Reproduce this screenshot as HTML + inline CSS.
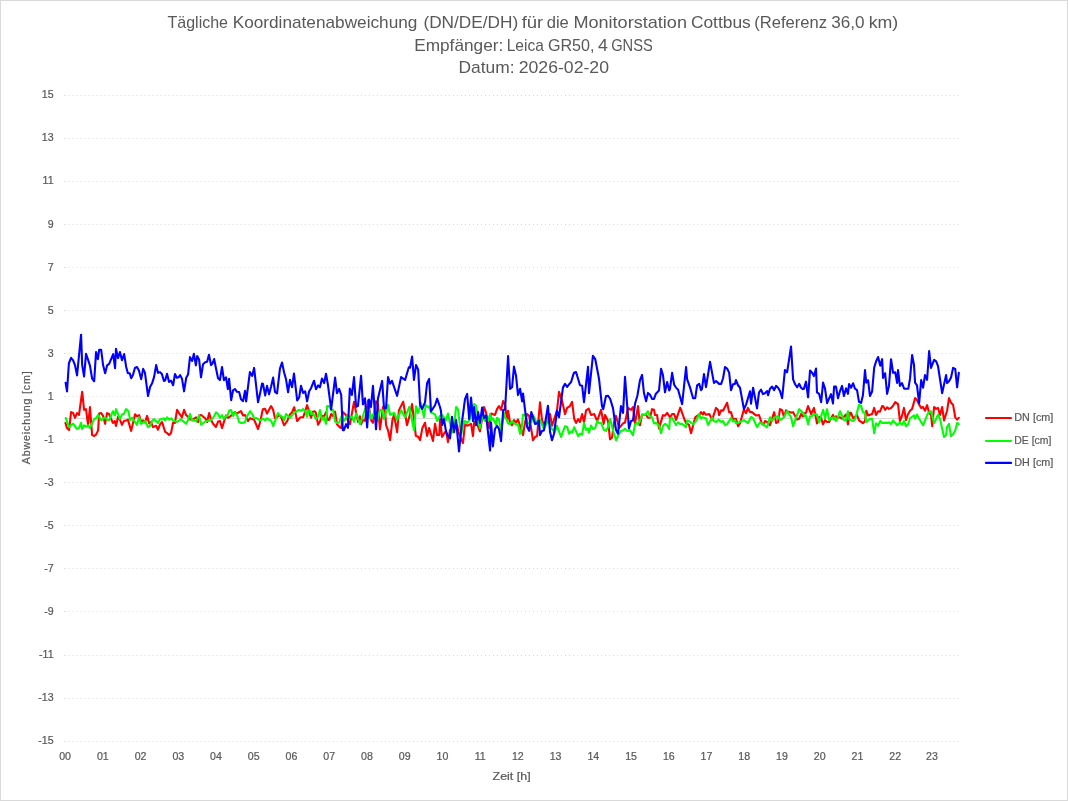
<!DOCTYPE html>
<html lang="de">
<head>
<meta charset="utf-8">
<title>Tägliche Koordinatenabweichung</title>
<style>
html,body{margin:0;padding:0;background:#fff;}
body{width:1068px;height:801px;overflow:hidden;}
svg{display:block;will-change:transform;}
text{font-family:"Liberation Sans",sans-serif;fill:#595959;}
.t{font-size:17px;}
.a{font-size:10.6px;stroke:#595959;stroke-width:0.22;}
.g{stroke:#d9d9d9;stroke-width:1;stroke-dasharray:1 3.0045;fill:none;}
.l{fill:none;stroke-width:2.1;stroke-linejoin:round;stroke-linecap:round;}
</style>
</head>
<body>
<svg width="1068" height="801" viewBox="0 0 1068 801">
<rect x="0.5" y="0.5" width="1067" height="800" fill="#fff" stroke="#d9d9d9" stroke-width="1"/>

<text class="t" y="28.0"><tspan x="167.5" textLength="60.5" lengthAdjust="spacingAndGlyphs">Tägliche</tspan> <tspan x="232.7" textLength="184.7" lengthAdjust="spacingAndGlyphs">Koordinatenabweichung</tspan> <tspan x="423.4" textLength="94.9" lengthAdjust="spacingAndGlyphs">(DN/DE/DH)</tspan> <tspan x="521.7" textLength="21.6" lengthAdjust="spacingAndGlyphs">für</tspan> <tspan x="546.7" textLength="22.1" lengthAdjust="spacingAndGlyphs">die</tspan> <tspan x="573.4" textLength="113.6" lengthAdjust="spacingAndGlyphs">Monitorstation</tspan> <tspan x="690.9" textLength="59.9" lengthAdjust="spacingAndGlyphs">Cottbus</tspan> <tspan x="754.2" textLength="72.8" lengthAdjust="spacingAndGlyphs">(Referenz</tspan> <tspan x="831.2" textLength="33.3" lengthAdjust="spacingAndGlyphs">36,0</tspan> <tspan x="868.7" textLength="29.6" lengthAdjust="spacingAndGlyphs">km)</tspan></text>
<text class="t" y="50.5"><tspan x="414.2" textLength="89.1" lengthAdjust="spacingAndGlyphs">Empfänger:</tspan> <tspan x="506.7" textLength="37.1" lengthAdjust="spacingAndGlyphs">Leica</tspan> <tspan x="547.9" textLength="46.6" lengthAdjust="spacingAndGlyphs">GR50,</tspan> <tspan x="597.9" textLength="9.9" lengthAdjust="spacingAndGlyphs">4</tspan> <tspan x="611.2" textLength="41.6" lengthAdjust="spacingAndGlyphs">GNSS</tspan></text>
<text class="t" y="73.0"><tspan x="458.4" textLength="56.1" lengthAdjust="spacingAndGlyphs">Datum:</tspan> <tspan x="518.7" textLength="90.3" lengthAdjust="spacingAndGlyphs">2026-02-20</tspan></text>
<line class="g" x1="64.5" y1="95.50" x2="959.0" y2="95.50"/>
<rect x="64" y="95" width="1" height="1" fill="#dcdcdc"/>
<text class="a" x="53.6" y="97.90" text-anchor="end">15</text>
<line class="g" x1="64.5" y1="138.50" x2="959.0" y2="138.50"/>
<rect x="64" y="138" width="1" height="1" fill="#dcdcdc"/>
<text class="a" x="53.6" y="140.90" text-anchor="end">13</text>
<line class="g" x1="64.5" y1="181.50" x2="959.0" y2="181.50"/>
<rect x="64" y="181" width="1" height="1" fill="#dcdcdc"/>
<text class="a" x="53.6" y="183.90" text-anchor="end">11</text>
<line class="g" x1="64.5" y1="224.50" x2="959.0" y2="224.50"/>
<rect x="64" y="224" width="1" height="1" fill="#dcdcdc"/>
<text class="a" x="53.6" y="227.90" text-anchor="end">9</text>
<line class="g" x1="64.5" y1="267.50" x2="959.0" y2="267.50"/>
<rect x="64" y="267" width="1" height="1" fill="#dcdcdc"/>
<text class="a" x="53.6" y="270.90" text-anchor="end">7</text>
<line class="g" x1="64.5" y1="310.50" x2="959.0" y2="310.50"/>
<rect x="64" y="310" width="1" height="1" fill="#dcdcdc"/>
<text class="a" x="53.6" y="313.90" text-anchor="end">5</text>
<line class="g" x1="64.5" y1="353.50" x2="959.0" y2="353.50"/>
<rect x="64" y="353" width="1" height="1" fill="#dcdcdc"/>
<text class="a" x="53.6" y="356.90" text-anchor="end">3</text>
<line class="g" x1="64.5" y1="396.50" x2="959.0" y2="396.50"/>
<rect x="64" y="396" width="1" height="1" fill="#dcdcdc"/>
<text class="a" x="53.6" y="399.90" text-anchor="end">1</text>
<line class="g" x1="64.5" y1="439.50" x2="959.0" y2="439.50"/>
<rect x="64" y="439" width="1" height="1" fill="#dcdcdc"/>
<text class="a" x="53.6" y="442.90" text-anchor="end">-1</text>
<line class="g" x1="64.5" y1="482.50" x2="959.0" y2="482.50"/>
<rect x="64" y="482" width="1" height="1" fill="#dcdcdc"/>
<text class="a" x="53.6" y="485.90" text-anchor="end">-3</text>
<line class="g" x1="64.5" y1="525.50" x2="959.0" y2="525.50"/>
<rect x="64" y="525" width="1" height="1" fill="#dcdcdc"/>
<text class="a" x="53.6" y="528.90" text-anchor="end">-5</text>
<line class="g" x1="64.5" y1="568.50" x2="959.0" y2="568.50"/>
<rect x="64" y="568" width="1" height="1" fill="#dcdcdc"/>
<text class="a" x="53.6" y="571.90" text-anchor="end">-7</text>
<line class="g" x1="64.5" y1="611.50" x2="959.0" y2="611.50"/>
<rect x="64" y="611" width="1" height="1" fill="#dcdcdc"/>
<text class="a" x="53.6" y="614.90" text-anchor="end">-9</text>
<line class="g" x1="64.5" y1="655.50" x2="959.0" y2="655.50"/>
<rect x="64" y="655" width="1" height="1" fill="#dcdcdc"/>
<text class="a" x="53.6" y="657.90" text-anchor="end">-11</text>
<line class="g" x1="64.5" y1="698.50" x2="959.0" y2="698.50"/>
<rect x="64" y="698" width="1" height="1" fill="#dcdcdc"/>
<text class="a" x="53.6" y="700.90" text-anchor="end">-13</text>
<line class="g" x1="64.5" y1="741.50" x2="959.0" y2="741.50"/>
<rect x="64" y="741" width="1" height="1" fill="#dcdcdc"/>
<text class="a" x="53.6" y="743.90" text-anchor="end">-15</text>
<line x1="64.5" y1="418.50" x2="959.0" y2="418.50" stroke="#d9d9d9" stroke-width="1"/>
<text class="a" x="65.10" y="759.9" text-anchor="middle">00</text>
<text class="a" x="102.83" y="759.9" text-anchor="middle">01</text>
<text class="a" x="140.56" y="759.9" text-anchor="middle">02</text>
<text class="a" x="178.29" y="759.9" text-anchor="middle">03</text>
<text class="a" x="216.02" y="759.9" text-anchor="middle">04</text>
<text class="a" x="253.75" y="759.9" text-anchor="middle">05</text>
<text class="a" x="291.48" y="759.9" text-anchor="middle">06</text>
<text class="a" x="329.21" y="759.9" text-anchor="middle">07</text>
<text class="a" x="366.94" y="759.9" text-anchor="middle">08</text>
<text class="a" x="404.67" y="759.9" text-anchor="middle">09</text>
<text class="a" x="442.40" y="759.9" text-anchor="middle">10</text>
<text class="a" x="480.13" y="759.9" text-anchor="middle">11</text>
<text class="a" x="517.86" y="759.9" text-anchor="middle">12</text>
<text class="a" x="555.59" y="759.9" text-anchor="middle">13</text>
<text class="a" x="593.32" y="759.9" text-anchor="middle">14</text>
<text class="a" x="631.05" y="759.9" text-anchor="middle">15</text>
<text class="a" x="668.78" y="759.9" text-anchor="middle">16</text>
<text class="a" x="706.51" y="759.9" text-anchor="middle">17</text>
<text class="a" x="744.24" y="759.9" text-anchor="middle">18</text>
<text class="a" x="781.97" y="759.9" text-anchor="middle">19</text>
<text class="a" x="819.70" y="759.9" text-anchor="middle">20</text>
<text class="a" x="857.43" y="759.9" text-anchor="middle">21</text>
<text class="a" x="895.16" y="759.9" text-anchor="middle">22</text>
<text class="a" x="931.99" y="759.9" text-anchor="middle">23</text>
<text class="a" x="511.6" y="779.5" text-anchor="middle" textLength="38" lengthAdjust="spacingAndGlyphs">Zeit [h]</text>
<text class="a" transform="translate(30,417.8) rotate(-90)" text-anchor="middle" textLength="93" lengthAdjust="spacing">Abweichung [cm]</text>
<path class="l" stroke="#ff0000" d="M65.43,422.92 L67.02,428.07 L69.08,430.13 L71.05,412.15 L73.11,412.90 L74.98,417.77 L77.04,413.09 L79.01,414.96 L82.19,391.74 L84.06,409.81 L86.03,409.16 L88.09,425.26 L89.96,407.00 L92.12,435.09 L94.18,436.03 L96.05,434.63 L98.11,430.41 L99.14,413.56 L101.20,413.09 L103.07,415.90 L105.13,423.86 L107.10,413.09 L109.16,414.03 L111.03,418.71 L112.90,422.92 L114.78,421.05 L115.99,426.01 L118.05,416.84 L119.93,419.64 L121.99,424.79 L123.95,421.05 L126.01,420.58 L127.88,419.64 L131.16,430.88 L135.09,414.21 L136.97,416.37 L139.12,415.15 L141.18,421.99 L143.05,420.39 L145.02,422.45 L147.08,415.90 L149.14,423.39 L151.01,421.99 L152.98,427.13 L155.04,426.20 L156.16,425.73 L158.03,429.76 L160.00,424.33 L162.06,421.99 L165.15,431.82 L167.02,432.94 L169.08,435.09 L171.05,432.94 L173.11,422.45 L174.98,422.92 L177.04,409.81 L179.01,413.09 L182.00,417.30 L184.06,409.81 L186.03,414.96 L188.09,416.84 L189.96,419.18 L192.12,420.11 L196.05,417.30 L198.11,421.99 L199.14,415.43 L201.20,414.96 L205.13,418.24 L207.10,421.99 L209.16,413.09 L211.03,419.83 L212.90,423.58 L215.99,426.95 L218.05,421.52 L219.93,421.05 L221.99,428.07 L226.01,415.43 L227.88,417.77 L230.22,416.37 L233.03,414.03 L235.09,412.15 L236.97,413.56 L239.12,412.15 L240.99,411.03 L243.05,415.43 L245.02,414.96 L248.01,421.05 L250.07,418.24 L254.10,419.64 L258.03,429.01 L260.00,422.45 L260.94,418.24 L262.81,409.34 L265.15,408.88 L267.02,413.56 L271.05,406.07 L273.11,409.81 L274.98,418.24 L277.04,417.30 L279.01,414.96 L281.07,416.84 L284.06,425.26 L287.15,421.05 L289.96,414.49 L292.12,412.15 L294.18,407.28 L297.17,421.05 L300.26,417.30 L303.07,417.30 L304.94,412.15 L307.10,405.13 L311.03,417.77 L312.90,411.69 L314.78,411.22 L315.99,413.09 L318.05,424.79 L319.93,421.52 L321.99,415.90 L323.95,416.37 L326.01,412.15 L327.88,420.11 L329.29,419.64 L331.16,414.03 L333.03,415.90 L335.09,411.69 L336.97,424.33 L340.00,427.45 L341.40,427.92 L342.81,412.00 L346.09,415.28 L347.96,420.90 L350.02,424.18 L354.04,401.70 L355.92,411.54 L357.98,421.84 L359.94,416.22 L361.07,424.18 L362.94,419.96 L365.00,420.90 L368.09,400.30 L370.90,419.96 L372.96,422.77 L376.05,401.24 L377.92,404.04 L379.98,429.33 L383.07,406.85 L384.94,408.73 L386.07,425.11 L388.03,430.26 L390.09,440.09 L392.43,419.96 L394.03,414.81 L397.12,432.13 L398.99,410.13 L403.20,401.70 L406.95,425.11 L409.29,417.15 L412.10,404.04 L415.84,435.88 L418.18,436.82 L420.06,440.09 L422.40,427.92 L425.02,422.77 L427.08,435.88 L429.14,427.92 L432.98,441.03 L435.04,423.71 L437.10,434.94 L439.25,434.94 L440.00,419.18 L442.06,436.97 L443.93,433.69 L446.09,430.88 L447.96,442.12 L450.02,429.94 L454.04,425.26 L457.04,425.26 L459.01,433.69 L462.94,443.05 L465.00,424.33 L467.15,425.73 L471.09,423.86 L472.96,436.03 L474.18,422.45 L476.05,421.52 L479.98,431.35 L484.01,407.00 L486.07,412.62 L489.16,428.07 L491.03,413.56 L494.96,414.96 L497.12,408.88 L498.99,406.07 L501.05,409.81 L503.20,400.92 L505.07,405.13 L507.13,420.58 L508.07,410.75 L510.04,422.45 L512.10,425.26 L513.97,420.11 L516.03,422.45 L518.00,419.64 L523.05,435.09 L525.02,422.45 L527.08,414.03 L529.14,415.90 L532.98,440.24 L535.04,436.97 L537.10,436.03 L540.00,402.32 L542.06,420.11 L543.93,424.79 L546.09,420.58 L547.96,422.45 L550.02,414.03 L551.99,425.73 L554.04,419.64 L557.04,410.28 L559.01,391.74 L562.00,400.45 L565.00,414.03 L567.15,407.94 L569.96,406.07 L572.12,401.85 L574.18,418.71 L576.05,422.92 L578.11,419.18 L579.98,421.99 L582.13,414.03 L584.01,422.45 L586.07,410.28 L588.69,408.60 L591.03,414.96 L594.31,414.03 L597.12,421.05 L601.05,409.81 L603.67,423.86 L605.07,414.96 L608.07,421.05 L610.04,439.31 L612.10,437.43 L613.97,422.45 L616.03,415.90 L619.12,428.07 L623.05,423.39 L625.02,422.45 L628.01,407.94 L631.01,409.81 L632.98,407.00 L635.04,423.39 L638.03,406.07 L640.00,425.26 L642.06,414.49 L646.09,414.96 L647.96,417.77 L650.02,417.77 L651.99,409.16 L654.04,409.81 L654.98,414.96 L657.04,414.96 L659.01,428.54 L662.94,415.15 L665.00,415.71 L667.15,412.90 L669.96,417.30 L672.12,414.03 L674.18,414.03 L676.05,419.83 L680.26,407.66 L684.01,418.24 L686.07,423.39 L688.97,424.79 L691.03,433.22 L695.24,417.30 L697.12,415.90 L699.93,414.03 L701.05,412.15 L702.92,414.49 L703.95,412.15 L706.01,414.78 L709.29,414.03 L712.10,419.83 L716.03,407.94 L718.00,409.81 L719.12,414.96 L721.18,410.28 L723.05,410.75 L727.08,402.79 L729.14,412.34 L731.01,412.15 L732.98,419.18 L735.97,418.71 L738.03,426.20 L740.00,423.39 L743.93,409.53 L746.09,413.09 L747.96,407.94 L750.02,412.15 L751.99,412.15 L755.92,415.43 L759.01,414.96 L762.00,423.86 L763.41,424.79 L765.00,421.05 L767.15,421.99 L769.96,425.26 L774.18,412.15 L776.05,422.92 L778.11,421.99 L779.98,409.16 L782.13,410.28 L784.01,416.84 L786.07,410.28 L788.03,411.69 L791.03,412.62 L793.09,412.15 L797.12,419.64 L799.18,418.71 L801.05,414.03 L802.92,416.37 L805.07,412.90 L806.01,412.62 L808.07,406.07 L811.16,414.03 L813.97,407.94 L816.97,423.39 L819.12,416.84 L821.18,418.24 L823.05,424.33 L825.02,420.11 L827.08,421.99 L829.14,421.99 L832.98,414.96 L834.10,417.77 L835.97,416.37 L838.03,417.77 L840.00,417.30 L842.06,418.71 L846.09,414.49 L847.96,424.33 L850.02,412.90 L851.05,412.90 L853.11,418.24 L857.04,415.15 L859.01,420.39 L862.94,423.20 L865.00,421.05 L866.22,410.75 L868.09,415.43 L872.12,414.03 L874.18,407.94 L876.05,414.96 L878.11,411.22 L879.98,411.69 L882.13,406.07 L883.07,406.07 L885.13,409.81 L887.10,407.28 L888.97,408.88 L891.03,407.94 L893.09,405.79 L895.24,402.04 L898.05,404.19 L899.93,421.05 L901.99,415.90 L903.95,407.94 L906.01,420.11 L908.07,414.03 L910.04,410.75 L912.10,408.88 L915.09,398.11 L916.97,399.98 L919.12,404.66 L921.18,407.94 L923.05,407.00 L925.02,410.75 L927.08,405.13 L929.14,413.09 L931.01,414.96 L932.23,426.20 L934.10,407.00 L936.16,408.88 L938.03,407.94 L939.98,414.96 L942.13,407.00 L944.01,420.39 L947.10,410.75 L948.97,398.11 L951.03,402.79 L953.09,404.85 L955.24,417.30 L957.12,419.64 L958.83,417.77"/>
<path class="l" stroke="#00ff00" d="M65.81,417.96 L68.90,427.13 L71.05,425.26 L73.11,423.58 L77.04,429.01 L79.01,428.07 L81.07,422.92 L82.19,429.01 L84.06,425.45 L86.03,426.67 L88.09,425.26 L89.96,428.07 L94.18,418.90 L96.05,418.24 L98.11,414.96 L101.20,420.11 L105.13,417.30 L107.10,419.83 L109.16,420.11 L112.90,411.22 L114.78,415.43 L115.99,409.16 L119.93,418.90 L121.99,414.49 L123.95,413.84 L126.01,409.16 L128.35,411.22 L130.22,420.11 L132.10,417.77 L136.97,424.79 L139.12,417.30 L141.18,423.86 L145.02,421.05 L148.01,427.13 L150.07,425.73 L152.23,420.58 L154.10,419.18 L158.03,422.92 L160.00,419.18 L162.06,419.18 L163.93,418.24 L165.15,420.39 L167.02,417.30 L169.08,419.64 L171.05,418.24 L173.11,420.58 L177.04,421.99 L181.07,419.18 L186.03,423.86 L188.09,420.11 L189.96,414.03 L192.12,420.58 L194.18,420.11 L196.05,421.52 L199.14,415.43 L201.20,424.79 L205.13,421.52 L211.03,420.11 L214.03,416.37 L215.99,412.34 L218.05,414.03 L219.93,417.77 L221.99,415.15 L223.95,418.90 L226.01,416.09 L227.42,415.90 L229.29,410.47 L231.16,410.09 L233.03,415.90 L235.09,412.34 L236.97,414.96 L239.12,421.99 L241.18,422.92 L243.05,422.92 L245.02,421.99 L246.61,416.84 L250.07,411.22 L252.23,414.03 L254.10,418.24 L256.16,417.96 L260.00,420.39 L263.00,418.52 L265.15,420.58 L267.02,418.24 L269.08,419.83 L271.05,420.39 L273.11,426.01 L274.98,421.05 L277.98,413.09 L279.94,415.43 L282.94,417.30 L284.06,420.11 L286.03,414.03 L288.09,415.90 L289.96,417.96 L294.18,412.34 L296.05,411.69 L298.11,410.28 L299.14,410.09 L301.20,410.75 L303.07,409.16 L305.13,410.75 L307.10,416.84 L308.03,410.75 L310.09,410.75 L311.03,414.21 L312.90,413.09 L315.99,419.18 L318.05,416.84 L319.93,410.09 L321.99,419.83 L323.95,417.30 L326.01,423.86 L327.13,406.07 L329.10,406.07 L331.16,410.09 L333.03,409.81 L335.09,421.52 L336.97,422.92 L339.12,422.45 L341.87,415.75 L343.93,420.90 L347.96,414.81 L350.02,417.62 L351.89,416.69 L354.04,421.84 L356.10,413.41 L359.94,424.18 L362.94,416.22 L365.00,409.19 L367.15,410.13 L369.03,409.66 L370.90,418.56 L374.18,412.47 L376.99,421.37 L379.98,410.13 L382.13,410.13 L384.01,419.03 L388.03,404.98 L390.09,414.81 L394.03,412.94 L397.12,419.96 L401.05,410.13 L405.07,417.15 L409.29,406.85 L413.97,430.26 L416.03,406.39 L418.00,412.94 L420.99,403.11 L423.99,417.15 L425.67,404.98 L428.01,407.32 L429.14,406.39 L431.01,412.47 L435.04,414.34 L437.10,420.90 L440.00,415.90 L442.06,414.96 L446.09,420.11 L447.96,413.56 L451.99,432.75 L454.04,425.26 L456.10,407.00 L457.98,409.34 L461.07,434.63 L464.06,421.52 L465.00,421.05 L467.15,422.92 L469.21,420.58 L472.96,405.13 L474.18,404.19 L476.05,405.60 L479.98,428.07 L482.13,416.84 L485.13,421.05 L488.03,421.05 L490.09,414.03 L491.03,420.11 L492.90,418.24 L495.99,424.79 L497.12,417.77 L498.99,419.64 L501.05,430.88 L503.95,413.09 L505.07,417.30 L507.13,420.11 L508.07,423.39 L510.04,423.86 L512.10,421.05 L513.97,423.39 L516.03,424.33 L518.00,424.33 L520.06,433.69 L521.18,432.75 L523.05,414.49 L525.02,414.96 L528.01,423.39 L531.29,422.45 L532.98,414.96 L537.10,423.39 L540.00,419.64 L543.93,429.01 L546.09,424.33 L547.96,416.84 L550.02,425.26 L551.99,429.01 L554.98,431.82 L557.04,425.73 L561.07,436.97 L565.00,426.20 L567.15,426.67 L569.03,433.69 L571.09,431.35 L572.12,432.75 L574.18,427.13 L578.11,436.03 L579.98,433.69 L582.13,434.63 L584.01,422.92 L586.07,429.94 L588.03,428.54 L588.97,432.75 L591.03,425.45 L592.90,429.01 L595.24,428.07 L597.12,421.05 L598.99,422.92 L601.05,422.92 L603.95,429.94 L606.01,430.88 L608.07,427.13 L610.22,419.18 L613.97,433.69 L616.03,440.24 L618.00,436.03 L620.99,430.88 L623.05,430.41 L625.02,428.82 L627.08,430.88 L630.07,430.41 L632.98,435.09 L635.04,424.33 L637.10,422.92 L638.03,424.33 L640.00,421.05 L642.06,414.78 L645.15,414.96 L647.96,411.22 L650.02,416.84 L651.99,417.30 L654.04,423.39 L655.92,422.92 L659.01,425.26 L661.07,433.22 L662.94,425.73 L665.28,423.86 L667.15,425.26 L669.21,429.01 L669.96,418.71 L672.12,417.77 L676.05,425.07 L678.11,422.45 L679.98,423.86 L682.13,423.86 L686.07,427.13 L687.10,420.58 L688.97,421.05 L693.09,424.33 L695.99,421.05 L699.18,414.21 L701.05,418.71 L701.99,417.30 L706.01,418.24 L708.07,425.07 L712.10,417.77 L713.97,421.05 L716.03,421.99 L718.65,419.83 L721.18,421.99 L723.05,421.05 L725.02,425.07 L727.08,424.33 L731.01,417.96 L732.98,421.52 L735.04,420.11 L735.97,423.39 L740.00,421.99 L743.93,420.11 L747.96,423.20 L751.05,417.02 L753.11,418.24 L757.04,427.13 L759.94,422.45 L762.94,424.14 L767.15,427.32 L769.96,417.30 L772.12,421.05 L774.18,417.77 L778.11,415.90 L779.98,420.11 L784.01,417.30 L787.10,411.03 L791.03,417.30 L793.09,426.20 L799.18,409.16 L802.92,412.62 L805.07,416.37 L806.01,415.43 L808.07,424.33 L810.04,416.37 L812.10,415.90 L813.97,414.03 L816.97,414.49 L819.12,422.45 L823.05,409.81 L825.02,418.24 L827.08,409.16 L829.14,420.11 L832.98,417.30 L834.10,419.64 L835.04,417.30 L835.97,421.05 L838.03,416.84 L840.00,411.22 L843.93,420.11 L846.09,420.58 L847.96,411.22 L849.08,419.18 L853.11,421.05 L854.98,419.18 L857.04,412.15 L859.01,404.85 L861.07,405.79 L862.94,412.15 L865.00,413.09 L866.22,421.99 L869.96,418.90 L872.12,418.90 L874.18,433.22 L876.05,423.39 L878.11,425.73 L880.26,421.05 L882.13,422.92 L888.03,422.92 L888.97,422.27 L891.03,424.14 L893.09,420.39 L897.12,425.26 L899.93,422.27 L901.99,424.79 L903.95,421.05 L906.01,426.20 L908.07,424.33 L910.04,418.24 L913.97,415.43 L915.09,418.71 L916.97,414.49 L919.12,418.90 L920.06,420.11 L923.05,425.26 L928.01,413.09 L931.01,411.22 L934.10,422.92 L938.03,414.78 L939.98,418.71 L944.01,436.97 L946.07,435.09 L947.10,427.13 L948.97,423.86 L951.03,436.03 L953.09,434.16 L955.24,430.41 L957.12,422.92 L958.83,424.14"/>
<path class="l" stroke="#0000ff" d="M65.62,382.90 L67.02,391.33 L68.90,363.24 L71.05,357.81 L73.11,360.43 L74.98,365.11 L77.04,375.41 L81.07,334.68 L82.19,365.11 L84.06,376.35 L86.03,353.88 L88.09,359.96 L89.96,365.58 L92.12,378.69 L94.18,381.22 L96.05,352.00 L97.92,359.21 L99.14,349.85 L101.20,349.85 L103.07,365.11 L105.13,373.26 L107.10,365.39 L109.16,363.90 L113.18,354.16 L115.06,368.20 L115.99,348.91 L118.05,358.09 L119.93,352.00 L121.99,360.15 L124.14,354.06 L126.20,366.99 L127.88,373.26 L129.76,373.26 L131.16,378.22 L133.03,374.76 L134.91,367.92 L136.97,366.99 L138.93,370.45 L141.18,379.16 L143.15,368.86 L144.93,372.60 L148.01,396.01 L150.07,386.93 L152.23,382.90 L154.10,376.82 L156.16,365.11 L158.03,372.88 L160.00,372.13 L161.87,374.01 L163.93,381.03 L165.15,380.56 L167.02,373.82 L169.08,381.97 L171.05,380.56 L173.11,385.24 L174.98,374.01 L176.85,377.75 L178.54,377.28 L180.13,375.13 L182.00,378.69 L184.06,391.33 L186.22,377.75 L188.09,374.48 L189.96,357.15 L192.12,360.90 L193.90,353.88 L195.86,365.39 L197.17,356.03 L199.14,359.78 L201.01,377.28 L203.07,364.18 L205.13,362.30 L207.10,361.84 L208.97,354.81 L211.03,365.11 L212.43,363.52 L214.12,359.03 L216.18,369.33 L218.05,378.22 L219.93,380.09 L221.99,366.99 L223.95,380.09 L226.01,377.28 L227.88,389.18 L229.10,378.88 L231.16,400.22 L233.03,390.39 L234.91,388.99 L236.97,391.80 L239.12,391.99 L240.99,399.29 L243.05,401.16 L245.02,390.86 L246.14,401.35 L249.89,372.13 L252.23,375.88 L254.10,367.92 L258.03,402.28 L260.00,393.84 L262.06,383.54 L263.00,384.01 L265.15,395.43 L267.02,385.88 L269.08,394.31 L271.05,386.82 L273.11,377.64 L274.98,391.97 L277.04,393.37 L279.94,368.56 L282.00,362.47 L284.06,372.30 L286.03,379.33 L288.09,392.25 L289.96,379.79 L292.02,387.28 L293.99,373.52 L296.05,390.56 L297.17,400.39 L299.14,397.58 L301.01,385.69 L303.07,392.90 L305.13,391.31 L307.10,401.33 L309.16,391.31 L311.03,388.22 L314.03,380.73 L315.99,389.16 L318.05,385.41 L319.93,387.28 L321.99,378.58 L324.14,383.07 L326.01,373.71 L327.88,384.48 L331.16,409.48 L335.09,377.64 L336.97,393.18 L339.12,388.88 L341.18,394.78 L342.81,430.24 L343.93,430.24 L346.09,424.16 L347.96,427.90 L349.83,388.58 L351.89,394.94 L354.04,377.15 L356.10,406.65 L357.98,405.99 L361.07,375.75 L362.94,404.31 L365.00,398.22 L367.15,427.43 L369.03,399.63 L370.90,407.12 L372.96,385.77 L376.05,429.31 L377.92,398.69 L382.13,380.90 L384.01,408.05 L386.07,408.05 L388.03,377.15 L390.09,383.71 L391.97,380.90 L397.12,395.88 L401.05,377.15 L405.07,379.96 L408.82,367.32 L410.04,367.79 L412.10,356.55 L413.97,379.96 L416.03,364.98 L418.18,369.66 L420.06,404.78 L422.12,408.99 L425.02,402.43 L427.08,383.24 L429.14,379.03 L431.01,411.33 L435.04,405.24 L437.10,398.69 L440.00,407.00 L440.94,410.75 L442.06,425.26 L443.93,419.18 L446.09,431.82 L447.96,436.03 L450.02,438.37 L451.99,416.84 L454.04,432.28 L456.10,420.11 L459.01,451.48 L462.00,421.99 L465.00,399.04 L467.15,393.90 L469.21,419.18 L471.09,397.64 L472.96,421.05 L474.18,407.00 L476.05,425.26 L478.11,412.15 L479.98,422.92 L482.13,407.47 L484.01,418.24 L486.07,415.43 L490.09,450.54 L491.03,422.45 L492.90,446.33 L494.96,429.01 L497.12,425.73 L498.99,429.01 L501.05,441.18 L503.20,409.81 L505.07,409.81 L508.07,355.97 L510.04,388.84 L512.10,387.25 L513.97,366.65 L516.03,375.64 L518.00,395.02 L520.06,388.75 L522.12,401.39 L523.05,393.61 L527.08,426.67 L529.14,430.88 L531.29,412.15 L535.04,423.86 L537.10,423.39 L538.97,420.58 L540.00,435.09 L542.06,430.88 L543.93,430.41 L547.96,405.79 L550.02,431.82 L551.99,440.24 L554.04,433.69 L557.04,410.75 L559.01,417.30 L562.94,387.62 L565.00,383.88 L567.15,386.97 L569.03,384.34 L571.09,382.00 L573.99,372.64 L576.05,371.99 L579.98,385.28 L582.13,385.75 L584.01,402.13 L588.03,366.74 L588.97,393.24 L592.90,355.79 L595.24,359.06 L598.99,378.73 L601.99,406.07 L603.20,409.16 L606.01,396.05 L608.07,395.77 L610.22,399.04 L613.03,408.41 L616.03,429.94 L618.00,433.69 L620.99,406.07 L623.05,412.90 L625.02,376.85 L628.95,428.54 L631.01,421.05 L632.98,420.58 L635.04,403.73 L637.38,395.77 L640.00,380.11 L642.06,374.96 L643.93,392.75 L646.09,401.18 L647.96,392.94 L650.02,394.81 L651.99,398.84 L654.04,398.84 L655.92,393.69 L659.01,390.41 L661.07,368.88 L662.94,374.96 L665.00,392.28 L667.15,381.99 L669.21,390.41 L669.96,389.01 L672.12,372.90 L674.18,384.79 L676.05,387.60 L678.11,389.76 L682.13,404.18 L686.07,367.00 L687.10,379.18 L690.09,387.60 L693.09,398.18 L695.24,398.18 L697.12,385.26 L699.18,383.86 L701.05,390.13 L701.99,388.82 L703.95,374.03 L706.01,387.13 L710.04,361.85 L713.97,382.92 L716.03,381.05 L719.12,383.86 L721.18,383.86 L723.05,378.24 L725.02,367.00 L727.08,368.60 L729.14,372.62 L731.01,390.13 L732.98,384.33 L735.04,383.86 L735.97,380.11 L738.03,385.26 L740.00,387.75 L743.93,409.10 L746.09,404.61 L750.02,391.31 L751.05,403.67 L753.11,387.75 L757.04,408.35 L759.01,392.43 L761.07,389.63 L762.94,394.12 L765.00,393.18 L767.15,391.03 L768.09,395.24 L769.96,388.69 L772.12,386.63 L774.18,390.09 L776.05,385.88 L778.11,387.75 L779.98,391.03 L782.13,398.24 L784.94,369.96 L787.10,372.30 L791.03,346.55 L793.09,379.33 L795.24,384.48 L797.12,387.28 L799.18,383.82 L801.05,387.75 L802.92,389.16 L803.95,388.69 L806.01,381.67 L808.07,397.30 L810.04,370.43 L812.10,372.77 L813.97,376.05 L816.03,368.56 L816.97,392.43 L819.12,393.84 L821.18,402.27 L823.05,382.60 L825.02,388.69 L827.08,403.20 L831.01,394.12 L832.98,403.48 L834.10,386.63 L835.97,386.63 L838.03,398.24 L840.00,391.03 L842.06,385.88 L843.93,395.99 L846.09,388.22 L847.96,393.84 L849.08,384.01 L851.05,387.75 L853.11,383.26 L854.98,388.69 L857.04,390.09 L859.01,401.80 L861.07,402.92 L862.94,395.24 L865.00,370.15 L866.22,382.60 L868.09,380.26 L869.96,395.99 L872.12,391.50 L874.18,367.62 L876.05,361.54 L878.11,357.04 L880.26,365.75 L882.13,359.19 L883.07,377.92 L885.13,373.24 L887.10,393.84 L888.97,385.88 L891.03,359.19 L893.09,372.77 L895.24,372.30 L897.12,382.88 L898.05,370.15 L899.93,385.88 L901.99,383.07 L904.14,388.69 L908.35,388.69 L910.04,378.39 L912.10,354.98 L913.97,364.81 L915.09,382.60 L916.97,385.41 L919.12,403.20 L921.18,380.07 L923.05,387.75 L925.02,375.11 L927.08,379.79 L929.14,351.05 L931.01,367.90 L934.10,359.85 L936.16,361.35 L938.03,366.22 L942.13,393.18 L946.07,375.11 L947.10,383.07 L948.97,381.20 L951.03,377.45 L953.09,367.90 L955.24,368.84 L957.12,387.28 L958.83,372.77"/>
<line x1="986" y1="418.0" x2="1011.1" y2="418.0" stroke="#ff0000" stroke-width="2.1" stroke-linecap="round"/>
<text class="a" x="1014.3" y="420.9" textLength="39" lengthAdjust="spacingAndGlyphs">DN [cm]</text>
<line x1="986" y1="441.0" x2="1011.1" y2="441.0" stroke="#00ff00" stroke-width="2.1" stroke-linecap="round"/>
<text class="a" x="1014.3" y="443.7" textLength="37" lengthAdjust="spacingAndGlyphs">DE [cm]</text>
<line x1="986" y1="462.9" x2="1011.1" y2="462.9" stroke="#0000ff" stroke-width="2.1" stroke-linecap="round"/>
<text class="a" x="1014.3" y="466.2" textLength="39" lengthAdjust="spacingAndGlyphs">DH [cm]</text>
</svg>
</body>
</html>
